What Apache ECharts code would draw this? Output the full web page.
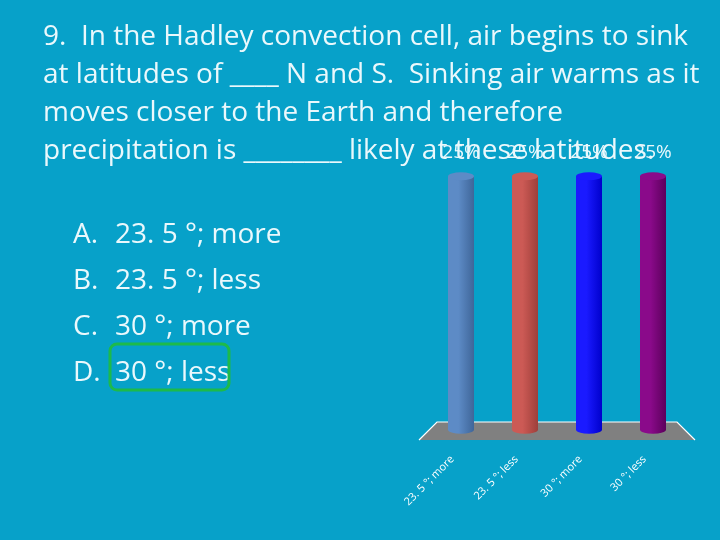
<!DOCTYPE html>
<html>
<head>
<meta charset="utf-8">
<title>Hadley cell question</title>
<script src="https://cdn.jsdelivr.net/npm/echarts@6/dist/echarts.min.js"></script>
<style>
    html, body { margin: 0; padding: 0; background: #07a1c9; }
    #main { width: 720px; height: 540px; }
</style>
</head>
<body>
<div id="main"></div>
<script>
// answer choices and votes (percent)
var categories = ['23. 5 °; more', '23. 5 °; less', '30 °; more', '30 °; less'];
var votes = [25, 25, 25, 25];

var questionLines = [
    '9.  In the Hadley convection cell, air begins to sink',
    'at latitudes of ____ N and S.  Sinking air warms as it',
    'moves closer to the Earth and therefore',
    'precipitation is ________ likely at these latitudes.'
];
var choiceLetters = ['A.', 'B.', 'C.', 'D.'];

// left/right shade of each cylinder
var barColors = [
    ['#5d8bc6', '#3f6699'],
    ['#cc5a55', '#9e3f3b'],
    ['#1a1aff', '#0000cc'],
    ['#8a0a8a', '#5c005c']
];

var textColor = '#eaf8fc';
var font = 'Open Sans';

var chart = echarts.init(document.getElementById('main'));

function sideGradient(i) {
    return new echarts.graphic.LinearGradient(0, 0, 1, 0, [
        {offset: 0, color: barColors[i][0]},
        {offset: 0.4, color: barColors[i][0]},
        {offset: 1, color: barColors[i][1]}
    ]);
}

var gridLeft = 429, gridRight = 35, gridTop = 176, gridBottom = 110;
var axisY = 540 - gridBottom;

var graphics = [];
// floor of the 3d plot
graphics.push({
    type: 'polygon',
    z: 0,
    shape: {points: [[437, axisY - 8], [677, axisY - 8], [695, axisY + 10], [419, axisY + 10]]},
    style: {fill: '#808080'}
});
graphics.push({
    type: 'polyline',
    z: 0,
    shape: {points: [[419, axisY + 10], [437, axisY - 8], [677, axisY - 8], [695, axisY + 10]]},
    style: {stroke: '#ffffff', lineWidth: 1.2, fill: null}
});

questionLines.forEach(function (line, i) {
    graphics.push({
        type: 'text',
        z: 10,
        style: {
            x: 43, y: 37 + i * 38,
            text: line, fill: textColor,
            font: '28px "' + font + '"',
            verticalAlign: 'middle'
        }
    });
});

categories.forEach(function (c, i) {
    graphics.push({
        type: 'text',
        z: 10,
        style: {
            x: 73, y: 235 + i * 46,
            text: choiceLetters[i], fill: textColor,
            font: '28px "' + font + '"', verticalAlign: 'middle'
        }
    });
    graphics.push({
        type: 'text',
        z: 10,
        style: {
            x: 115, y: 235 + i * 46,
            text: c, fill: textColor,
            font: '28px "' + font + '"', verticalAlign: 'middle'
        }
    });
});

// correct answer box
graphics.push({
    type: 'rect',
    z: 10,
    shape: {x: 110, y: 344, width: 119, height: 46, r: 7},
    style: {fill: null, stroke: '#1dba4a', lineWidth: 3}
});

var option = {
    backgroundColor: '#07a1c9',
    animation: false,
    grid: {left: gridLeft, right: gridRight, top: gridTop, bottom: gridBottom},
    xAxis: {
        type: 'category',
        data: categories,
        axisLine: {show: false},
        axisTick: {show: false},
        axisLabel: {
            rotate: 45,
            margin: 19,
            padding: [0, 12, 0, 0],
            color: '#ffffff',
            fontSize: 11,
            fontFamily: font,
            interval: 0
        }
    },
    yAxis: {
        type: 'value',
        min: 0,
        max: 25,
        show: false
    },
    graphic: graphics,
    series: [
        {
            type: 'bar',
            data: votes,
            barWidth: 26,
            z: 2,
            itemStyle: {
                color: function (p) { return sideGradient(p.dataIndex); }
            },
            label: {
                show: true,
                position: 'top',
                distance: 14,
                formatter: '{c}%',
                color: textColor,
                fontSize: 19,
                fontFamily: font
            }
        },
        {
            type: 'pictorialBar',
            data: votes,
            symbol: 'circle',
            symbolSize: [26, 8],
            symbolPosition: 'start',
            symbolOffset: [0, '50%'],
            barGap: '-100%',
            z: 1,
            itemStyle: {
                color: function (p) { return sideGradient(p.dataIndex); },
                borderColor: '#ffffff',
                borderWidth: 1,
                borderType: 'dashed'
            }
        },
        {
            type: 'pictorialBar',
            data: votes,
            symbol: 'circle',
            symbolSize: [26, 8],
            symbolPosition: 'end',
            symbolOffset: [0, '-50%'],
            barGap: '-100%',
            z: 3,
            itemStyle: {
                color: function (p) { return barColors[p.dataIndex][0]; },
                borderColor: '#ffffff',
                borderWidth: 1,
                borderType: 'dashed'
            }
        }
    ]
};
chart.setOption(option);
</script>
</body>
</html>
